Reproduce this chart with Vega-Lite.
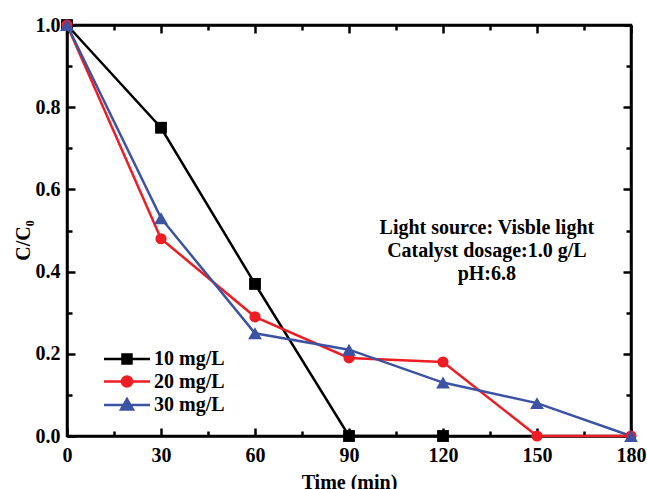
{
  "$schema": "https://vega.github.io/schema/vega-lite/v6.json",
  "width": 564,
  "height": 411,
  "autosize": {"type": "none"},
  "padding": {"left": 67, "top": 25, "right": 16, "bottom": 53},
  "background": "#ffffff",
  "config": {
    "font": "Liberation Serif",
    "view": {"stroke": "#000000", "strokeWidth": 2.5},
    "axis": {
      "grid": false,
      "domainColor": "#000000",
      "domainWidth": 2.5,
      "tickColor": "#000000",
      "tickWidth": 2.5,
      "labelFont": "Liberation Serif",
      "labelFontSize": 20,
      "labelFontWeight": "bold",
      "labelColor": "#000000",
      "titleFont": "Liberation Serif",
      "titleFontSize": 20,
      "titleFontWeight": "bold",
      "titleColor": "#000000"
    },
    "legend": {
      "orient": "none",
      "legendX": 50,
      "legendY": 324,
      "padding": 0,
      "rowPadding": 2.5,
      "labelFont": "Liberation Serif",
      "labelFontSize": 20,
      "labelFontWeight": "bold",
      "labelColor": "#000000",
      "labelOffset": 17,
      "symbolSize": 100
    }
  },
  "data": {
    "values": [
      {"time": 0, "c": 1.0, "series": "10 mg/L"},
      {"time": 30, "c": 0.75, "series": "10 mg/L"},
      {"time": 60, "c": 0.37, "series": "10 mg/L"},
      {"time": 90, "c": 0.0, "series": "10 mg/L"},
      {"time": 120, "c": 0.0, "series": "10 mg/L"},
      {"time": 0, "c": 1.0, "series": "20 mg/L"},
      {"time": 30, "c": 0.48, "series": "20 mg/L"},
      {"time": 60, "c": 0.29, "series": "20 mg/L"},
      {"time": 90, "c": 0.19, "series": "20 mg/L"},
      {"time": 120, "c": 0.18, "series": "20 mg/L"},
      {"time": 150, "c": 0.0, "series": "20 mg/L"},
      {"time": 180, "c": 0.0, "series": "20 mg/L"},
      {"time": 0, "c": 1.0, "series": "30 mg/L"},
      {"time": 30, "c": 0.53, "series": "30 mg/L"},
      {"time": 60, "c": 0.25, "series": "30 mg/L"},
      {"time": 90, "c": 0.21, "series": "30 mg/L"},
      {"time": 120, "c": 0.13, "series": "30 mg/L"},
      {"time": 150, "c": 0.08, "series": "30 mg/L"},
      {"time": 180, "c": 0.0, "series": "30 mg/L"}
    ]
  },
  "layer": [
    {
      "mark": {"type": "line", "strokeWidth": 2.5, "clip": false},
      "encoding": {
        "x": {
          "field": "time", "type": "quantitative",
          "scale": {"domain": [0, 180], "nice": false, "zero": false},
          "axis": {
            "orient": "bottom",
            "title": "Time (min)",
            "values": [0, 15, 30, 45, 60, 75, 90, 105, 120, 135, 150, 165, 180],
            "labelExpr": "datum.value % 30 === 0 ? datum.label : ''",
            "tickSize": {"condition": {"test": "datum.value % 30 === 0", "value": -8}, "value": -5},
            "labelPadding": 17,
            "labelFlush": false,
            "titlePadding": 7
          }
        },
        "y": {
          "field": "c", "type": "quantitative",
          "scale": {"domain": [0, 1], "nice": false},
          "axis": {
            "orient": "left",
            "title": "C/C₀",
            "values": [0, 0.1, 0.2, 0.3, 0.4, 0.5, 0.6, 0.7, 0.8, 0.9, 1.0],
            "labelExpr": "round(datum.value * 10) % 2 === 0 ? format(datum.value, '.1f') : ''",
            "tickSize": {"condition": {"test": "round(datum.value * 10) % 2 === 0", "value": -8}, "value": -5},
            "labelPadding": 15,
            "labelFlush": false,
            "titlePadding": 2,
            "titleY": 215
          }
        },
        "color": {
          "field": "series", "type": "nominal",
          "scale": {"domain": ["10 mg/L", "20 mg/L", "30 mg/L"], "range": ["#000000", "#EE1D23", "#3C53A4"]},
          "legend": {
            "title": null,
            "encode": {
              "symbols": {
                "update": {
                  "shape": {"signal": "datum.value === '10 mg/L' ? 'M-4.6,0H4.6M-0.9,-0.9H0.9V0.9H-0.9Z' : datum.value === '20 mg/L' ? 'M-4.6,0H4.6M1,0A1,1,0,1,1,-1,0A1,1,0,1,1,1,0Z' : 'M-4.6,0H4.6M0,-1.2L1.2,0.9H-1.2Z'"},
                  "fill": {"scale": "color", "field": "value"},
                  "stroke": {"scale": "color", "field": "value"},
                  "strokeWidth": {"value": 2.5},
                  "opacity": {"value": 1},
                  "size": {"value": 100}
                }
              }
            }
          }
        }
      }
    },
    {
      "transform": [{"filter": "datum.series === '10 mg/L'"}],
      "mark": {"type": "point", "shape": "square", "filled": true, "opacity": 1, "size": 140, "color": "#000000", "clip": false},
      "encoding": {
        "x": {"field": "time", "type": "quantitative", "axis": null},
        "y": {"field": "c", "type": "quantitative", "axis": null}
      }
    },
    {
      "transform": [{"filter": "datum.series === '20 mg/L'"}],
      "mark": {"type": "point", "shape": "circle", "filled": true, "opacity": 1, "size": 125, "color": "#EE1D23", "clip": false},
      "encoding": {
        "x": {"field": "time", "type": "quantitative", "axis": null},
        "y": {"field": "c", "type": "quantitative", "axis": null}
      }
    },
    {
      "transform": [{"filter": "datum.series === '30 mg/L'"}],
      "mark": {"type": "point", "shape": "triangle-up", "filled": true, "opacity": 1, "size": 190, "color": "#3C53A4", "clip": false},
      "encoding": {
        "x": {"field": "time", "type": "quantitative", "axis": null},
        "y": {"field": "c", "type": "quantitative", "axis": null}
      }
    },
    {
      "data": {"values": [{}]},
      "mark": {
        "type": "text",
        "text": ["Light source: Visble light", "Catalyst dosage:1.0 g/L", "pH:6.8"],
        "font": "Liberation Serif",
        "fontSize": 20,
        "fontWeight": "bold",
        "color": "#000000",
        "align": "center",
        "baseline": "middle",
        "lineHeight": 23
      },
      "encoding": {
        "x": {
          "datum": 134, "type": "quantitative",
          "axis": {
            "orient": "top", "title": null, "labels": false,
            "values": [0, 15, 30, 45, 60, 75, 90, 105, 120, 135, 150, 165, 180],
            "tickSize": {"condition": {"test": "datum.value % 30 === 0", "value": -8}, "value": -5}
          }
        },
        "y": {
          "datum": 0.505, "type": "quantitative",
          "axis": {
            "orient": "right", "title": null, "labels": false,
            "values": [0, 0.1, 0.2, 0.3, 0.4, 0.5, 0.6, 0.7, 0.8, 0.9, 1.0],
            "tickSize": {"condition": {"test": "round(datum.value * 10) % 2 === 0", "value": -8}, "value": -5}
          }
        }
      }
    }
  ]
}
